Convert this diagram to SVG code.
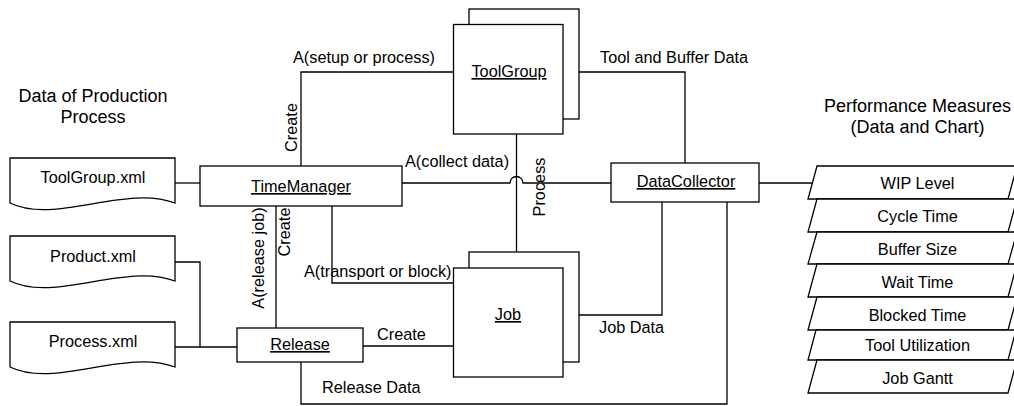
<svg xmlns="http://www.w3.org/2000/svg" width="1014" height="406" viewBox="0 0 1014 406">
  <style>
    .box { fill: #fff; stroke: #000; stroke-width: 1.3; }
    .wire { fill: none; stroke: #000; stroke-width: 1.3; }
    text { font-family: "Liberation Sans", Arial, sans-serif; font-size: 16.3px; fill: #000; }
    .head { font-size: 18px; text-anchor: middle; }
    .mid { text-anchor: middle; }
    .name { text-anchor: middle; text-decoration: underline; }
  </style>
  <rect width="1014" height="406" fill="#fff"/>

  <!-- section headings -->
  <g id="heading-input">
    <text class="head" x="93" y="102">Data of Production</text>
    <text class="head" x="93" y="123">Process</text>
  </g>
  <g id="heading-output">
    <text class="head" x="917.5" y="112">Performance Measures</text>
    <text class="head" x="917.5" y="133">(Data and Chart)</text>
  </g>

  <!-- connectors -->
  <g id="connectors">
    <!-- input files -->
    <path class="wire" d="M175,183 H200"/>
    <path class="wire" d="M175,262 H200 V347"/>
    <path class="wire" d="M175,347 H237"/>
    <!-- TimeManager to ToolGroup -->
    <path class="wire" d="M301,166 V72 H453.5"/>
    <!-- ToolGroup to DataCollector -->
    <path class="wire" d="M579,72 H685 V163"/>
    <!-- TimeManager to DataCollector, hopping over the Process line -->
    <path class="wire" d="M402,183 H510 A6.5,6.5 0 0 1 523,183 H611"/>
    <!-- ToolGroup to Job -->
    <path class="wire" d="M516.5,134 V252"/>
    <!-- TimeManager to Job -->
    <path class="wire" d="M332,206 V283 H453.5"/>
    <!-- TimeManager to Release -->
    <path class="wire" d="M276,206 V328"/>
    <!-- Release to Job -->
    <path class="wire" d="M363,346 H453.5"/>
    <!-- Job to DataCollector -->
    <path class="wire" d="M579,315 H662 V202"/>
    <!-- Release to DataCollector -->
    <path class="wire" d="M301,362 V404 H727 V202"/>
    <!-- DataCollector to measures -->
    <path class="wire" d="M759,183 H813"/>

    <text x="364" y="63" class="mid">A(setup or process)</text>
    <text x="600" y="63">Tool and Buffer Data</text>
    <text x="405" y="167">A(collect data)</text>
    <text x="304" y="277">A(transport or block)</text>
    <text x="377" y="340">Create</text>
    <text x="599" y="333">Job Data</text>
    <text x="322" y="393">Release Data</text>
    <text class="mid" transform="translate(296.5,127.5) rotate(-90)">Create</text>
    <text class="mid" transform="translate(545,187) rotate(-90)">Process</text>
    <text class="mid" transform="translate(264,258) rotate(-90)">A(release job)</text>
    <text class="mid" transform="translate(290,232) rotate(-90)">Create</text>
  </g>

  <!-- input files -->
  <g id="toolgroup-xml">
    <path class="box" d="M10,158 H175 V203 C125,184 55,225 10,203 Z"/>
    <text class="mid" x="93" y="183">ToolGroup.xml</text>
  </g>
  <g id="product-xml">
    <path class="box" d="M10,236 H175 V281 C125,262 55,303 10,281 Z"/>
    <text class="mid" x="93" y="262">Product.xml</text>
  </g>
  <g id="process-xml">
    <path class="box" d="M10,322 H175 V367 C125,348 55,389 10,367 Z"/>
    <text class="mid" x="93" y="347">Process.xml</text>
  </g>

  <!-- objects -->
  <g id="time-manager">
    <rect class="box" x="200" y="166" width="202" height="40"/>
    <text class="name" x="301" y="192">TimeManager</text>
  </g>
  <g id="release">
    <rect class="box" x="237" y="328" width="126" height="34"/>
    <text class="name" x="300" y="350">Release</text>
  </g>
  <g id="tool-group">
    <rect class="box" x="469" y="9" width="110" height="110"/>
    <rect class="box" x="453.5" y="24.5" width="109.5" height="109.5"/>
    <text class="name" x="509" y="77">ToolGroup</text>
  </g>
  <g id="job">
    <rect class="box" x="469" y="252" width="110" height="110"/>
    <rect class="box" x="453.5" y="268" width="109.5" height="109"/>
    <text class="name" x="508" y="320">Job</text>
  </g>
  <g id="data-collector">
    <rect class="box" x="611" y="163" width="148" height="39"/>
    <text class="name" x="686" y="187">DataCollector</text>
  </g>

  <!-- performance measures -->
  <g id="wip-level">
    <path class="box" d="M817,166 H1017 L1008,199 H808 Z"/>
    <text class="mid" x="917.5" y="189">WIP Level</text>
  </g>
  <g id="cycle-time">
    <path class="box" d="M817,199 H1017 L1008,232 H808 Z"/>
    <text class="mid" x="917.5" y="222">Cycle Time</text>
  </g>
  <g id="buffer-size">
    <path class="box" d="M817,232 H1017 L1008,264 H808 Z"/>
    <text class="mid" x="917.5" y="255">Buffer Size</text>
  </g>
  <g id="wait-time">
    <path class="box" d="M817,264 H1017 L1008,297 H808 Z"/>
    <text class="mid" x="917.5" y="288">Wait Time</text>
  </g>
  <g id="blocked-time">
    <path class="box" d="M817,297 H1017 L1008,330 H808 Z"/>
    <text class="mid" x="917.5" y="321">Blocked Time</text>
  </g>
  <g id="tool-utilization">
    <path class="box" d="M816,330 H1016 L1008,360 H808 Z"/>
    <text class="mid" x="917.5" y="351">Tool Utilization</text>
  </g>
  <g id="job-gantt">
    <path class="box" d="M817,360 H1017 L1008,393 H808 Z"/>
    <text class="mid" x="917.5" y="384">Job Gantt</text>
  </g>
</svg>
